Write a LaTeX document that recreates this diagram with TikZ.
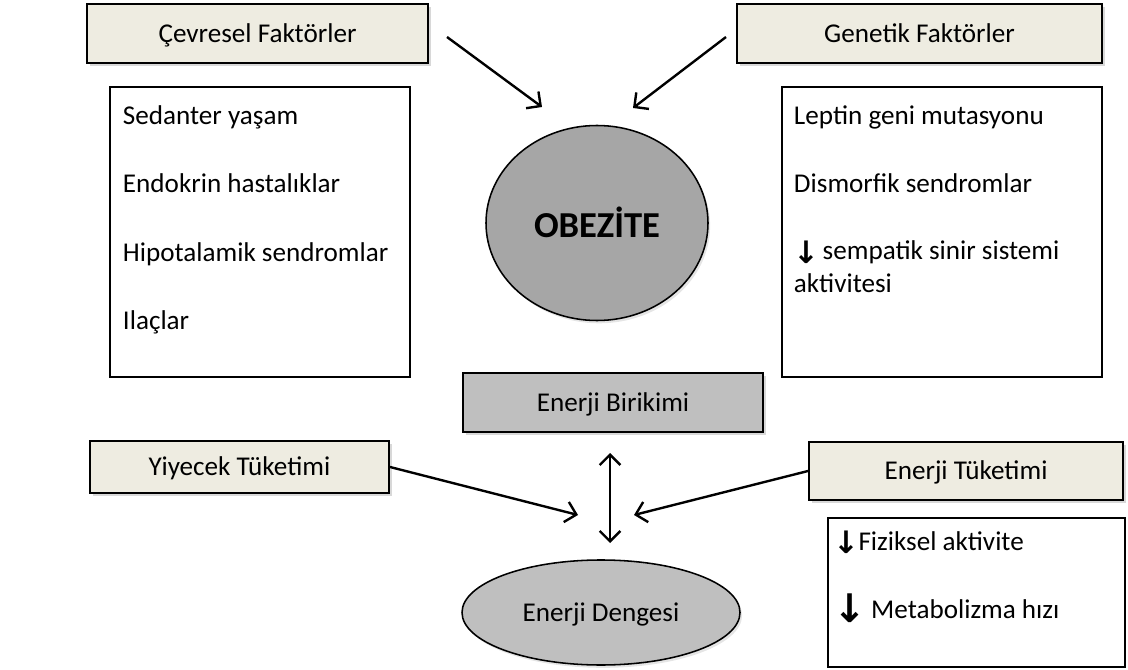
\documentclass[tikz,border=0pt]{standalone}
\usepackage{fontspec}
\setmainfont{Carlito}
\newfontfamily\arrowfont{DejaVu Sans}
\usetikzlibrary{positioning,arrows.meta,shadows,shapes.geometric}

\definecolor{headfill}{HTML}{EEECE1}
\definecolor{obezfill}{HTML}{A6A6A6}
\definecolor{stockfill}{HTML}{BFBFBF}

\newcommand{\itemfont}{\fontsize{19.3}{23.5}\selectfont}
\newcommand{\dn}[1][22]{{\arrowfont\bfseries\fontsize{#1}{#1}\selectfont\raisebox{-0.12em}{↓}}}

\begin{document}
\begin{tikzpicture}[
    line width=1.4pt,
    % --- box styles ---
    hdr/.style={draw, fill=headfill, line width=1.4pt, font=\itemfont, inner sep=0pt,
                text height=12.5pt, text depth=0pt,
                drop shadow={shadow xshift=2pt, shadow yshift=-2pt, fill=black!30}},
    listbox/.style={draw, fill=white, line width=1.4pt, inner sep=0pt},
    greybox/.style={hdr, fill=stockfill},
    oval/.style={ellipse, draw, line width=1.1pt, inner sep=0pt, text depth=0pt,
                drop shadow={shadow xshift=1.5pt, shadow yshift=-2pt, fill=black!20}},
    % --- list text style ---
    lst/.style={anchor=base west, inner sep=0pt, font=\itemfont},
    % --- arrow styles ---
    arr/.style={-{Straight Barb[length=2.6mm, width=5.2mm]}, line width=1.7pt},
    darr/.style={{Straight Barb[length=2.6mm, width=5.2mm]}-{Straight Barb[length=2.6mm, width=5.2mm]}, line width=1.7pt},
]

\useasboundingbox (0,0) rectangle (28.2,-16.75);

%% =====================================================================
%%  TOP: factor headers and their lists
%% =====================================================================
\node[hdr, minimum width=8.525cm, minimum height=1.475cm] (cev) at ( 6.4375, -0.8375)
    {Çevresel Faktörler};
\node[hdr, minimum width=9.125cm, minimum height=1.475cm] (gen) at (22.9875, -0.8375)
    {Genetik Faktörler};

\node[listbox, minimum width=7.5cm, minimum height=7.25cm] (cevlist) at ( 6.50, -5.80) {};
\node[listbox, minimum width=8.0cm, minimum height=7.25cm] (genlist) at (23.55, -5.80) {};

%% ---- environmental factors ----
\node[lst] (sed) at (3.05, -3.125) {Sedanter yaşam};
\node[lst] (endo) at (3.05, -4.825) {Endokrin hastalıklar};
\node[lst] (hipo) at (3.05, -6.550) {Hipotalamik sendromlar};
\node[lst] (ilac) at (3.05, -8.250) {Ilaçlar};

%% ---- genetic factors ----
\node[lst] (lep) at (19.825, -3.125) {Leptin geni mutasyonu};
\node[lst] (dis) at (19.825, -4.825) {Dismorfik sendromlar};
\node[lst] (sem) at (19.825, -6.500) {\dn\hspace{2pt}sempatik sinir sistemi};
\node[lst] (akt) at (19.825, -7.325) {aktivitesi};

%% ---- OBEZITE ----
\node[oval, fill=obezfill, minimum width=5.55cm, minimum height=4.875cm,
      text height=21pt, font=\fontsize{26}{30}\selectfont\bfseries] (obez) at (14.925, -5.575) {OBEZİTE};

\coordinate (cevout) at (11.175, -0.925);
\coordinate (cevin)  at (13.550, -2.675);
\coordinate (genout) at (18.150, -0.925);
\coordinate (genin)  at (15.825, -2.700);
\draw[arr] (cevout) -- (cevin);
\draw[arr] (genout) -- (genin);

%% =====================================================================
%%  BOTTOM: energy balance
%% =====================================================================
\node[greybox, minimum width=7.5cm, minimum height=1.475cm] (birikim) at (15.325, -10.0625)
    {Enerji Birikimi};
\node[hdr, minimum width=7.475cm, minimum height=1.30cm] (yiyecek) at ( 5.9875, -11.675)
    {Yiyecek Tüketimi};
\node[hdr, minimum width=7.85cm, minimum height=1.45cm] (harcama) at (24.15, -11.775)
    {Enerji Tüketimi};

\node[listbox, minimum width=7.425cm, minimum height=3.725cm] (harlist) at (24.4125, -14.8125) {};
\node[lst] (fiz) at (20.825, -13.75) {\dn\hspace{-1pt}Fiziksel aktivite};
\node[lst] (met) at (20.825, -15.45) {\dn[28]\hspace{3pt}Metabolizma hızı};

\node[oval, fill=stockfill, minimum width=6.95cm, minimum height=2.625cm,
      text height=12.5pt, font=\itemfont] (denge) at (15.025, -15.3125) {Enerji Dengesi};

\coordinate (baltop) at (15.25, -11.325);
\coordinate (balbot) at (15.25, -13.575);
\coordinate (yiyin)  at (14.45, -12.875);
\coordinate (harin)  at (15.85, -12.875);

\draw[darr] (baltop) -- (balbot);
\draw[arr] (yiyecek.east) -- (yiyin);
\draw[arr] (harcama.west) -- (harin);

\end{tikzpicture}
\end{document}
